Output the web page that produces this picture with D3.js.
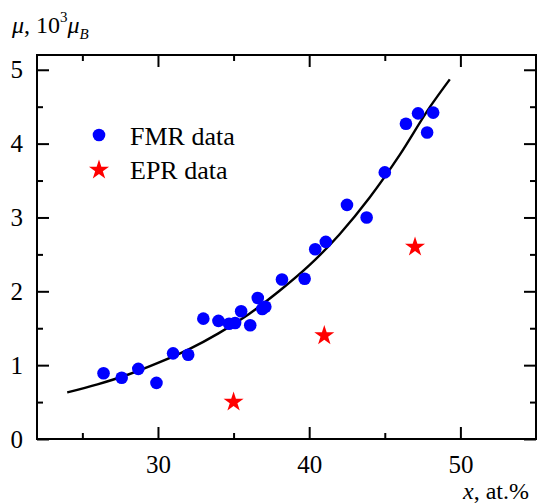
<!DOCTYPE html>
<html>
<head>
<meta charset="utf-8">
<script src="https://cdn.jsdelivr.net/npm/d3@7"></script>
</head>
<body style="margin:0;background:#fff">
<svg id="s" width="537" height="503"></svg>
<script>
// FMR data points (x at.%, mu in 10^3 mu_B)
const fmrX = [26.4, 27.6, 28.7, 29.9, 31.0, 32.0, 33.0, 34.0, 34.7, 35.1, 35.5, 36.1, 36.6, 36.9, 37.1, 38.2, 39.7, 40.4, 41.1, 42.5, 43.8, 45.0, 46.4, 47.2, 47.8, 48.2];
const fmrY = [0.89, 0.83, 0.95, 0.76, 1.16, 1.14, 1.63, 1.60, 1.56, 1.57, 1.73, 1.54, 1.91, 1.76, 1.79, 2.16, 2.17, 2.57, 2.67, 3.17, 3.00, 3.61, 4.27, 4.41, 4.15, 4.42];

// EPR data points
const eprX = [35, 41, 47];
const eprY = [0.50, 1.40, 2.60];

// fitted curve
const fitX = [24, 26, 28, 30, 32, 34, 36, 38, 40, 42, 44, 46, 48, 49.3];
const fitY = [0.63, 0.74, 0.87, 1.03, 1.21, 1.43, 1.69, 2.00, 2.35, 2.77, 3.27, 3.85, 4.50, 4.87];

const xMajor = [30, 40, 50];
const xMinor = [25, 35, 45, 55];
const yMajor = [0, 1, 2, 3, 4, 5];
const yMinor = [0.5, 1.5, 2.5, 3.5, 4.5];

const legendItems = ['FMR data', 'EPR data'];

(function() {
const FONT = '"Liberation Serif", Tinos, "Times New Roman", Times';
const svg = d3.select('#s').attr('font-family', FONT).style('font-family', FONT);
const pL = 37, pR = 536, pT = 55, pB = 439;

const x = d3.scaleLinear().domain([22, 55]).range([pL, pR]);
const y = d3.scaleLinear().domain([0, 5.2]).range([pB, pT]);

function inward(g, axis, size, vals, labels) {
  g.call(axis.tickValues(vals).tickSize(-size).tickSizeOuter(0).tickFormat(labels ? d3.format('d') : ''));
  g.attr('font-family', FONT).style('font-family', FONT).attr('font-size', 25);
  g.select('.domain').remove();
  g.selectAll('.tick line').attr('stroke', '#000').attr('stroke-width', 2);
  g.selectAll('.tick text').attr('fill', '#000').attr('font-family', FONT).style('font-family', FONT);
}

// ticks pointing inward on all four sides
inward(svg.append('g').attr('transform', `translate(0,${pB})`), d3.axisBottom(x).tickPadding(16), 12, xMajor, true);
inward(svg.append('g').attr('transform', `translate(0,${pB})`), d3.axisBottom(x), 6, xMinor, false);
inward(svg.append('g').attr('transform', `translate(0,${pT})`), d3.axisTop(x), 12, xMajor, false);
inward(svg.append('g').attr('transform', `translate(0,${pT})`), d3.axisTop(x), 6, xMinor, false);
inward(svg.append('g').attr('transform', `translate(${pL},0)`), d3.axisLeft(y).tickPadding(14), 12, yMajor, true);
inward(svg.append('g').attr('transform', `translate(${pL},0)`), d3.axisLeft(y), 6, yMinor, false);
inward(svg.append('g').attr('transform', `translate(${pR},0)`), d3.axisRight(y), 12, yMajor, false);
inward(svg.append('g').attr('transform', `translate(${pR},0)`), d3.axisRight(y), 6, yMinor, false);

// frame
svg.append('rect')
  .attr('x', pL).attr('y', pT)
  .attr('width', pR - pL).attr('height', pB - pT)
  .attr('fill', 'none').attr('stroke', '#000').attr('stroke-width', 2);

// fit curve
const line = d3.line()
  .x(d => x(d[0]))
  .y(d => y(d[1]))
  .curve(d3.curveMonotoneX);
svg.append('path')
  .datum(d3.zip(fitX, fitY))
  .attr('d', line)
  .attr('fill', 'none')
  .attr('stroke', '#000')
  .attr('stroke-width', 2.4);

// FMR points
svg.append('g').selectAll('circle')
  .data(d3.zip(fmrX, fmrY))
  .enter().append('circle')
    .attr('cx', d => x(d[0]))
    .attr('cy', d => y(d[1]))
    .attr('r', 6.3)
    .attr('fill', '#0000ff');

// EPR stars
const star = d3.symbol().type(d3.symbolStar).size(125);
svg.append('g').selectAll('path')
  .data(d3.zip(eprX, eprY))
  .enter().append('path')
    .attr('d', star)
    .attr('transform', d => `translate(${x(d[0])},${y(d[1])})`)
    .attr('fill', '#ff0000');

// legend
const leg = svg.append('g').attr('transform', 'translate(99,135)');
leg.append('circle').attr('cx', 0).attr('cy', 0).attr('r', 6.3).attr('fill', '#0000ff');
leg.append('path').attr('d', star).attr('transform', 'translate(0,35)').attr('fill', '#ff0000');
leg.selectAll('text')
  .data(legendItems)
  .enter().append('text')
    .attr('x', 31)
    .attr('y', (d, i) => 10 + i * 34)
    .attr('font-family', FONT)
    .attr('font-size', 26)
    .text(d => d);

// y title: mu, 10^3 mu_B
const yt = svg.append('text').attr('x', 12).attr('y', 33)
  .attr('font-family', FONT).attr('font-size', 24);
yt.append('tspan').attr('font-style', 'italic').text('μ');
yt.append('tspan').text(', 10');
yt.append('tspan').attr('dy', -11).attr('font-size', 15).text('3');
yt.append('tspan').attr('dy', 11).attr('font-style', 'italic').text('μ');
yt.append('tspan').attr('dy', 6).attr('font-style', 'italic').attr('font-size', 15).text('B');

// x title
const xt = svg.append('text').attr('x', 529).attr('y', 499).attr('text-anchor', 'end')
  .attr('font-family', FONT).attr('font-size', 24);
xt.append('tspan').attr('font-style', 'italic').text('x');
xt.append('tspan').text(', at.%');
})();
</script>
</body>
</html>
